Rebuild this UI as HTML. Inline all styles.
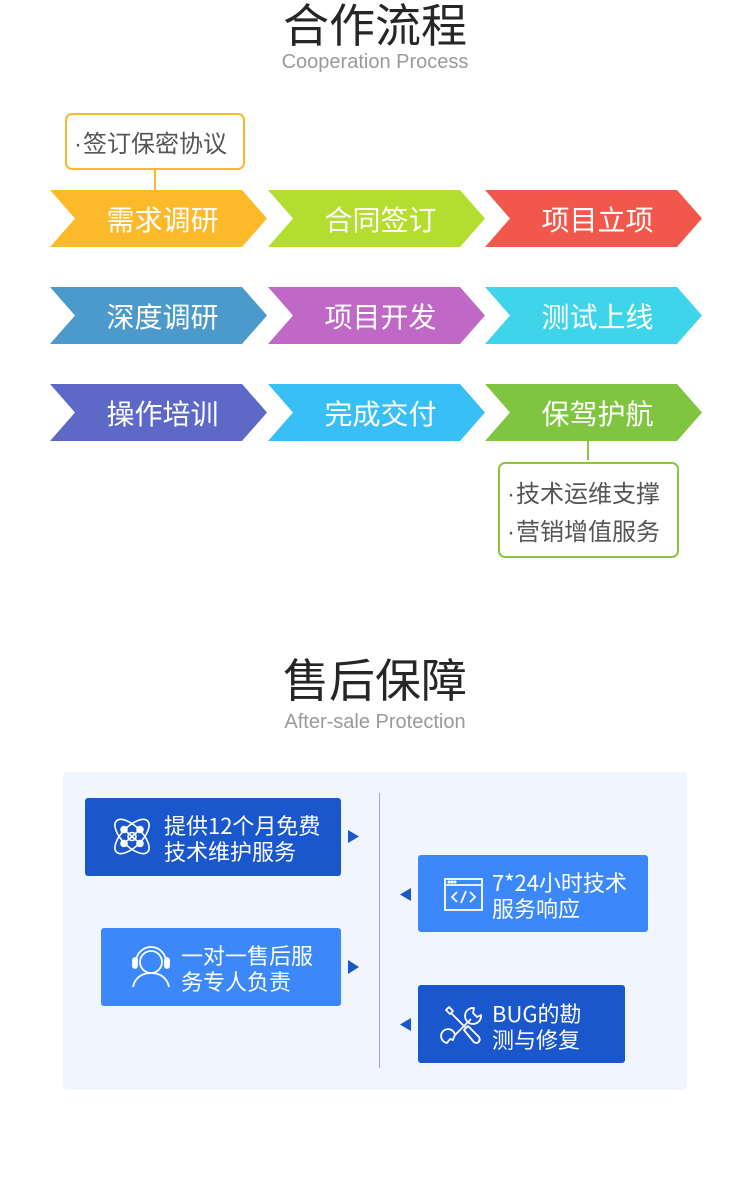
<!DOCTYPE html>
<html><head><meta charset="utf-8">
<style>
*{margin:0;padding:0;box-sizing:border-box}
html,body{width:750px;height:1190px;background:#fff;overflow:hidden}
body{position:relative;font-family:"Liberation Sans","Noto Sans CJK SC",sans-serif}
.abs{position:absolute}
.title{position:absolute;left:0;width:750px;text-align:center;font-family:"Noto Sans CJK SC",sans-serif;font-size:46px;line-height:46px;color:#262626;font-weight:400}
.sub{position:absolute;left:0;width:750px;text-align:center;font-family:"Liberation Sans",sans-serif;font-size:20px;line-height:22px;color:#9a9a9a}
.at{position:absolute;width:217px;height:57px;display:flex;align-items:center;justify-content:center;padding-left:8px;color:#fff;font-family:"Noto Sans CJK SC",sans-serif;font-size:28px;letter-spacing:0px}
.box{position:absolute;border:2px solid;border-radius:7px;background:#fff;color:#555;font-family:"Noto Sans CJK SC",sans-serif;font-size:24px}
.box div{position:absolute;left:7px;white-space:nowrap;line-height:30px}
.dot{font-family:"Liberation Sans",sans-serif;margin-right:1px}
.card{position:absolute;border-radius:3px}
.ct{position:absolute;color:#fff;font-family:"Noto Sans CJK SC",sans-serif;font-size:22px;line-height:26px;white-space:nowrap}
</style></head><body>

<div class="title" style="top:0">合作流程</div>
<div class="sub" style="top:51px">Cooperation Process</div>

<!-- arrows -->
<svg class="abs" style="left:0;top:0" width="750" height="460">
<g>
<polygon fill="#FCB929" points="50,190 242,190 267,218.5 242,247 50,247 75,218.5"/>
<polygon fill="#B3DE30" points="268,190 460,190 485,218.5 460,247 268,247 293,218.5"/>
<polygon fill="#F1584B" points="485,190 677,190 702,218.5 677,247 485,247 510,218.5"/>
<polygon fill="#4B9ACB" points="50,287 242,287 267,315.5 242,344 50,344 75,315.5"/>
<polygon fill="#C068C6" points="268,287 460,287 485,315.5 460,344 268,344 293,315.5"/>
<polygon fill="#3ED4EA" points="485,287 677,287 702,315.5 677,344 485,344 510,315.5"/>
<polygon fill="#5E68C7" points="50,384 242,384 267,412.5 242,441 50,441 75,412.5"/>
<polygon fill="#38BFF6" points="268,384 460,384 485,412.5 460,441 268,441 293,412.5"/>
<polygon fill="#80C53F" points="485,384 677,384 702,412.5 677,441 485,441 510,412.5"/>
</g>
<line x1="155" y1="169" x2="155" y2="190" stroke="#FBB829" stroke-width="2"/>
<line x1="588" y1="441" x2="588" y2="462" stroke="#8CC63F" stroke-width="2"/>
</svg>

<div class="at" style="left:50px;top:190px">需求调研</div>
<div class="at" style="left:268px;top:190px">合同签订</div>
<div class="at" style="left:485px;top:190px">项目立项</div>
<div class="at" style="left:50px;top:287px">深度调研</div>
<div class="at" style="left:268px;top:287px">项目开发</div>
<div class="at" style="left:485px;top:287px">测试上线</div>
<div class="at" style="left:50px;top:384px">操作培训</div>
<div class="at" style="left:268px;top:384px">完成交付</div>
<div class="at" style="left:485px;top:384px">保驾护航</div>

<div class="box" style="left:65px;top:113px;width:180px;height:57px;border-color:#FBB829">
  <div style="top:12px"><span class="dot">·</span>签订保密协议</div>
</div>
<div class="box" style="left:498px;top:462px;width:181px;height:96px;border-color:#8CC63F">
  <div style="top:13px"><span class="dot">·</span>技术运维支撑</div>
  <div style="top:51px"><span class="dot">·</span>营销增值服务</div>
</div>

<div class="title" style="top:655px">售后保障</div>
<div class="sub" style="top:711px">After-sale Protection</div>

<div class="abs" style="left:63px;top:772px;width:624px;height:318px;background:#F0F5FE;border-radius:4px"></div>
<div class="abs" style="left:379px;top:793px;width:1px;height:275px;background:#8FA8DC"></div>

<!-- cards -->
<div class="card" style="left:85px;top:798px;width:256px;height:78px;background:#1A56CC"></div>
<div class="card" style="left:101px;top:928px;width:240px;height:78px;background:#3C88FB"></div>
<div class="card" style="left:418px;top:855px;width:230px;height:77px;background:#3C88FB"></div>
<div class="card" style="left:418px;top:985px;width:207px;height:78px;background:#1A56CC"></div>

<div class="ct" style="left:164px;top:812px">提供12个月免费<br>技术维护服务</div>
<div class="ct" style="left:181px;top:942px">一对一售后服<br>务专人负责</div>
<div class="ct" style="left:492px;top:869px">7*24小时技术<br>服务响应</div>
<div class="ct" style="left:492px;top:1000px">BUG的勘<br>测与修复</div>

<svg class="abs" style="left:0;top:0" width="750" height="1190">
<!-- triangles -->
<polygon fill="#1A56CC" points="348,830 359,836.5 348,843"/>
<polygon fill="#1A56CC" points="348,960 359,967 348,974"/>
<polygon fill="#1A56CC" points="411,888 400,894.5 411,901"/>
<polygon fill="#1A56CC" points="411,1018 400,1024.5 411,1031"/>

<!-- atom icon -->
<g fill="none" stroke="#fff" stroke-width="1.6" transform="translate(132,836.5)">
  <ellipse rx="22" ry="10" transform="rotate(45)"/>
  <ellipse rx="22" ry="10" transform="rotate(-45)"/>
  <circle r="4"/>
  <line x1="-8" y1="-7" x2="8" y2="7"/>
  <line x1="8" y1="-7" x2="-8" y2="7"/>
  <circle r="3" cx="-8" cy="-7" fill="#fff"/>
  <circle r="3" cx="8" cy="-7" fill="#fff"/>
  <circle r="3" cx="-8" cy="7" fill="#fff"/>
  <circle r="3" cx="8" cy="7" fill="#fff"/>
</g>

<!-- headset icon -->
<g fill="none" stroke="#fff" stroke-width="1.8" transform="translate(151,967)">
  <circle cx="0" cy="-5" r="11"/>
  <path d="M-15,-5 A15,15 0 0 1 15,-5"/>
  <rect x="-18" y="-9" width="4" height="10" rx="2" fill="#fff"/>
  <rect x="14" y="-9" width="4" height="10" rx="2" fill="#fff"/>
  <path d="M-18,20 C-16,10 -8,6 0,6 C8,6 16,10 18,20"/>
</g>

<!-- code window icon -->
<g fill="none" stroke="#fff" stroke-width="1.8" transform="translate(444,878)">
  <rect x="1" y="1" width="37" height="31"/>
  <line x1="1" y1="7" x2="38" y2="7"/>
  <circle cx="5" cy="4" r="0.6" fill="#fff"/>
  <circle cx="8" cy="4" r="0.6" fill="#fff"/>
  <circle cx="11" cy="4" r="0.6" fill="#fff"/>
  <polyline points="13,14 8,19 13,24"/>
  <polyline points="26,14 31,19 26,24"/>
  <line x1="22" y1="13" x2="17" y2="25"/>
</g>

<!-- tools icon -->
<g fill="none" stroke="#fff" stroke-width="1.8" stroke-linejoin="round" transform="translate(444,1006)">
  <path d="M2,4 L5,1 L9,5 L6,8 Z"/>
  <line x1="7" y1="7" x2="22" y2="22"/>
  <path d="M20,24 L24,20 L35,31 Q37,35 33,37 Q30,37 29,35 Z"/>
  <path d="M30,2 A8,8 0 1 0 37,9 L33,11 L29,7 Z"/>
  <line x1="27" y1="13" x2="11" y2="29"/>
  <path d="M11,29 A7,7 0 1 0 3,37 L6,33 L9,34 L10,31 Z"/>
</g>
</svg>

</body></html>
